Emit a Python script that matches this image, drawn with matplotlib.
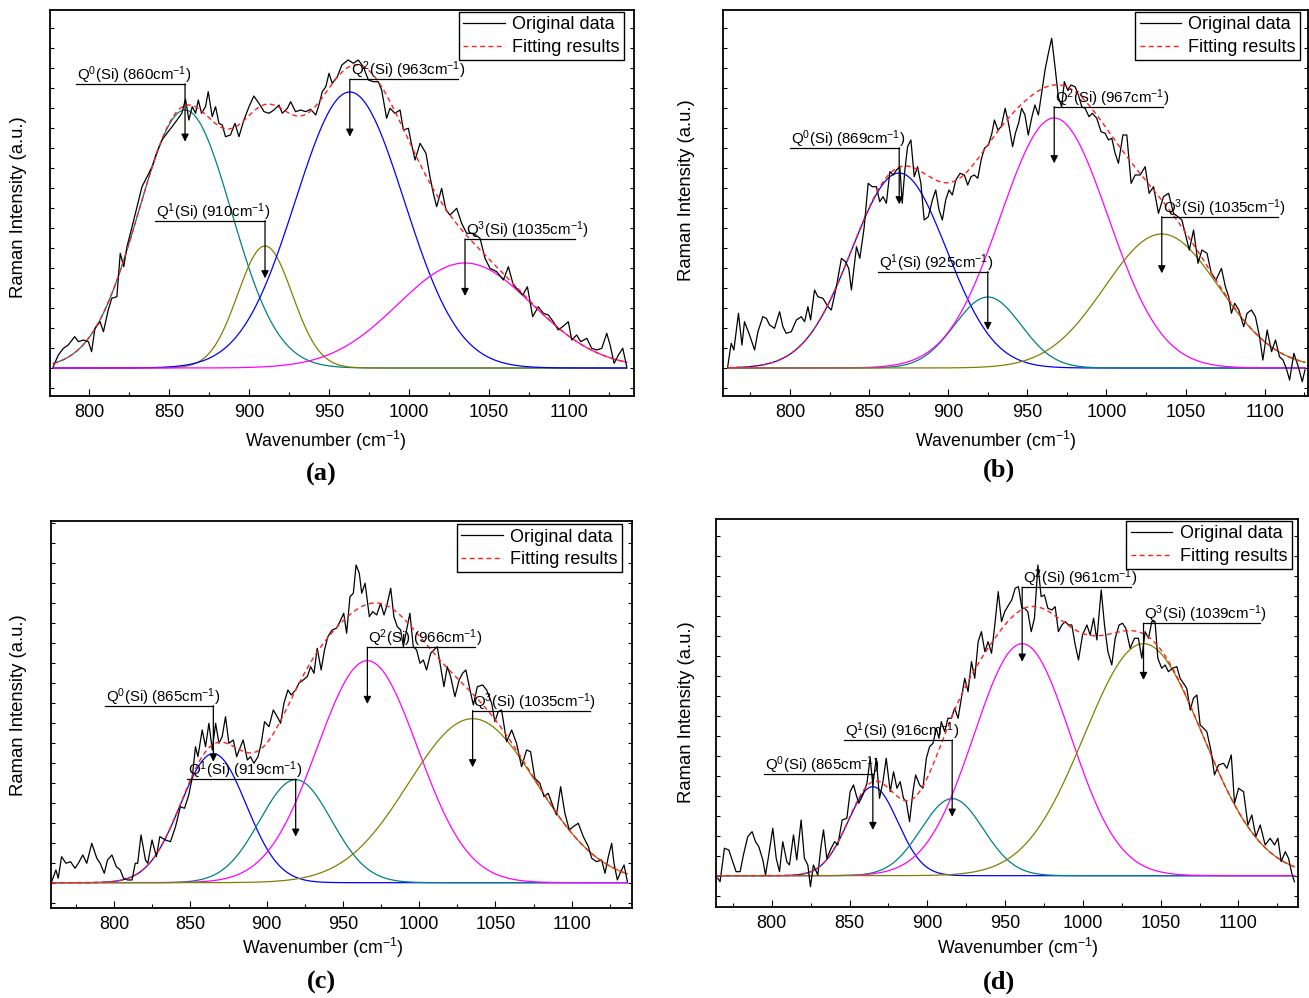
import numpy as np
import matplotlib
matplotlib.use("Agg")
import matplotlib.pyplot as plt
from matplotlib.ticker import MultipleLocator, NullFormatter

plt.rcParams["font.family"] = ["Liberation Sans", "DejaVu Sans"]
plt.rcParams["mathtext.default"] = "regular"

TEAL, OLIVE, BLUE, MAGENTA = "#008080", "#808000", "#0000ff", "#ff00ff"

# ---------------- panel (a) ----------------
wn_a = [777.6, 780.8, 784, 787, 791, 793.4, 796.4, 799.6, 801.6, 803.7, 806.9, 809, 812, 814.2,
        817.4, 819.5, 821.7, 823.7, 826.9, 830, 833.1, 836.3, 839.4, 842.5, 845.6, 848.7, 851.9,
        855, 858, 860.3, 862.4, 864.5, 866.6, 868.3, 870.3, 872.8, 874.5, 877, 879.1, 881.2,
        883.3, 885.3, 888.4, 891.2, 893.7, 896.8, 900, 903, 906.2, 909.4, 912.5, 915.6, 918.7,
        920.8, 924, 926, 929.1, 932.3, 935.4, 938.5, 941.7, 943.7, 945.8, 948, 950, 952, 955.2,
        958, 962, 965.2, 968.3, 971.4, 974.6, 977.7, 980.8, 982.9, 986, 988.1, 991.2, 994.4,
        996.5, 999.6, 1001.7, 1003.8, 1006.9, 1010.6, 1013.1, 1015.2, 1017.3, 1020.4, 1023.1,
        1025.6, 1029.8, 1032.9, 1036, 1040.2, 1044.4, 1047.5, 1050.6, 1054.8, 1059, 1062.1,
        1065.2, 1068.3, 1071.1, 1074, 1077.3, 1080.8, 1084, 1087.1, 1090.2, 1093.3, 1096,
        1099.6, 1101.7, 1104.8, 1107.3, 1111.1, 1114.2, 1117.3, 1120.5, 1123.6, 1125.7, 1128.2,
        1130.9, 1133.6, 1136.1]
raw_a = [1.3, 13, 19.7, 23, 31.3, 26.3, 28, 26.3, 16.3, 39.7, 46.3, 36.3, 58, 69.7,
         71.3, 114.7, 101.3, 121.3, 141.3, 161.3, 181.3, 191.3, 201.3, 216.3, 228, 234.7, 241.3,
         248, 254.7, 269, 248, 261.3, 254.7, 268, 254.7, 261.3, 276.3, 251.3, 261.3, 244.7,
         243, 231.3, 233, 244.7, 231.3, 248, 261.3, 272, 264.7, 256.3, 254.7, 258, 263,
         254.7, 259.7, 266.3, 256.3, 258, 256.3, 258.7, 253, 263, 276.3, 281.3, 294.7, 284.7, 291.3,
         303, 308, 304.7, 308, 301.3, 288, 286.3, 286.3, 278, 249.7, 259.7, 254.7, 258,
         238, 239.7, 223, 208, 224.7, 214.7, 191.3, 174.7, 161.3, 179.7, 158,
         153, 159.7, 144.7, 134.7, 134.7, 129.7, 109.7, 99.7, 96.3, 88, 101.3,
         83, 78, 73, 81.3, 51.3, 61.3, 54.7, 53, 46.3, 38, 41.3,
         46.3, 28, 33, 26.3, 29.7, 19.7, 18, 19.7, 34.7, 23, 4.7,
         13, 19.7, 1.3]
centers_a = [860, 910, 963, 1035]
heights_a = [258, 122, 276, 105]
sigmas_a = [29, 17, 34, 42]
colors_a = [TEAL, OLIVE, BLUE, MAGENTA]

# ---------------- panel (b) ----------------
wn_b = [760.6, 762.8, 764.5, 767.4, 769.6, 771.2, 774.4, 777.6, 779.7, 782.8, 785, 787.1, 790.2,
        793.4, 795.5, 797.6, 800.8, 804, 807.1, 809.2, 811.3, 813, 815.5, 817.6, 820.8, 824,
        826.1, 829.3, 832.5, 835, 837.1, 838.8, 842, 844.1, 846.8, 849.4, 851.9, 854.6, 856.7,
        858.8, 860.9, 863.1, 865.2, 867.3, 869.4, 870.9, 872.6, 874.3, 876.4, 878.5, 880.6,
        882.7, 884.8, 887.4, 890, 892.1, 894.2, 896.3, 898.4, 900.5, 902.6, 904.8, 907.5, 910.2,
        912.3, 914.4, 916.5, 918.7, 920.8, 922.9, 925.4, 927.6, 929.2, 931.4, 933.5, 936, 938.1,
        940.7, 942.5, 944.5, 946.4, 948.5, 950.6, 952.7, 954.8, 957, 959.5, 961.2, 963.3, 965.4,
        967.5, 969.6, 971.7, 973.4, 975.5, 977.6, 980.2, 982.3, 984.4, 986.5, 989, 991.1, 993.9,
        996.6, 999.2, 1001.3, 1003.4, 1005.5, 1007.6, 1010.4, 1012.9, 1015.6, 1018.2, 1021.3,
        1024.5, 1027, 1029.8, 1032.9, 1036.1, 1039.3, 1042.4, 1045.2, 1047.7, 1049.8, 1052.4,
        1055.1, 1057.9, 1060.4, 1063.6, 1066.3, 1069.3, 1072.7, 1075.2, 1077.3, 1079, 1081.1,
        1083.7, 1086.8, 1088.9, 1091.7, 1094.2, 1096.8, 1098.9, 1101.6, 1104.4, 1106.9, 1109.4,
        1111.6, 1113.7, 1115.8, 1118.5, 1121.3, 1123.8, 1125.5]
raw_b = [1.3, 24.7, 18, 54.7, 23, 46.3, 33, 18, 36.3, 51.3, 49.7, 43, 39.7,
         56.3, 41.3, 34.7, 36.3, 48, 51.3, 46.3, 61.3, 48, 78, 71.3, 69.7, 61.3,
         58, 81.3, 109.7, 106.3, 99.7, 78, 121.3, 109.7, 139.7, 184.7, 181.3, 181.3, 166.3,
         171.3, 164.7, 196.3, 193, 198, 201.3, 164.7, 198, 221.3, 228, 191.3, 201.3,
         184.7, 148, 151.3, 168, 178, 158, 148, 168, 178, 173, 188, 194.7, 193,
         183, 191.3, 193, 189.7, 208, 219.7, 223, 234.7, 248, 238, 241.3, 259.7, 244.7,
         221.3, 235, 245, 259.7, 253, 233, 249.7, 263, 253, 279.7, 298, 314.7, 329.7,
         301.3, 271.3, 261.3, 286.3, 278, 283, 281.3, 273, 261.3, 259.7, 251.3, 254.7, 249.7,
         236.3, 234.7, 228, 229.7, 214.7, 204.7, 233, 233, 184.7, 193, 193,
         201.3, 174.7, 181.3, 154.7, 171.3, 174.7, 154.7, 151.3, 148, 134.7, 118,
         138, 104.7, 118, 114.7, 94.7, 88, 99.7, 81.3, 71.3, 54.7, 64.7,
         58, 41.3, 54.7, 58, 51.3, 31.3, 8, 38, 16.3, 28, 11.3,
         8, -0.3, -12, 14.7, 1.3, -13.7, -2]
centers_b = [869, 925, 967, 1035]
heights_b = [195, 71, 250, 134]
sigmas_b = [30, 21, 34, 36]
colors_b = [BLUE, TEAL, MAGENTA, OLIVE]

# ---------------- panel (c) ----------------
wn_c = [759, 761.8, 763.3, 765.5, 768.4, 771.4, 774.3, 776.5, 779.4, 782, 785.3, 788.6, 790.8,
        793.5, 795.6, 798.5, 801.4, 804, 806.1, 808.8, 811.7, 813.8, 815.4, 817.6, 820.5, 822,
        824.8, 827.7, 829.9, 833.6, 836.9, 840.2, 843.4, 846.1, 848.9, 851.1, 853.3, 854.9,
        857.7, 859.9, 862.1, 864.3, 866.5, 868.7, 870.8, 873, 875.2, 878.1, 880.3, 882.4, 884.6,
        887.3, 889.4, 891.6, 894.3, 896.4, 898.6, 901.5, 904.3, 906.9, 909.1, 911.3, 913.9,
        916.1, 919, 921.1, 924, 926.6, 928.8, 931, 933.1, 935.7, 937.9, 940.1, 942.9, 945.8,
        948, 950.5, 952.4, 954.6, 956.8, 958.6, 960.7, 962.3, 964.5, 967.3, 969.5, 972.1, 974.7,
        976.9, 978.6, 981.3, 983.4, 985.6, 987.8, 989.6, 991.7, 993.9, 996.1, 998.3, 1000.5,
        1002.7, 1004.8, 1007.5, 1009.6, 1011.8, 1013.6, 1016.2, 1018.4, 1020.6, 1023.4, 1026.2,
        1028.4, 1030.6, 1033.3, 1035.5, 1038.1, 1041.6, 1044.2, 1047.5, 1049.6, 1051.8, 1054,
        1057.3, 1060.6, 1063.8, 1067.1, 1070.4, 1073, 1075.8, 1079.1, 1081.8, 1084.6, 1087.8,
        1090, 1092.7, 1095.5, 1098.4, 1101, 1104.3, 1107.6, 1110.9, 1113.1, 1116.3, 1119.6,
        1121.8, 1124, 1126.2, 1127.7, 1129.9, 1132.1, 1134.3, 1136.5]
raw_c = [1, 12.7, 4.4, 26, 19.4, 21, 14.4, 19.4, 27.7, 19.4, 39.4, 24.4, 19.4,
         9.4, 22.7, 27.7, 16, 12.7, 4.4, 2.7, 2.7, 19.4, 19.4, 47.7, 22.7, 19.4,
         42.7, 26, 46, 42.7, 41, 56, 76, 74.4, 87.7, 104.4, 136, 126,
         152.7, 136, 159.4, 132.7, 159.4, 139.4, 146, 166, 139.4, 142.7, 126, 134.4, 142.7,
         122.7, 126, 119.4, 126, 139.4, 161, 156, 172.7, 166, 159.4, 179.4, 192.7,
         187.7, 192.7, 199.4, 202.7, 206, 216, 209.4, 234.4, 212.7, 232.7, 246, 252.7, 254.4,
         261, 269.4, 249.4, 286, 289.4, 317.7, 309.4, 289.4, 299.4, 266, 271, 267.7, 279.4,
         267.7, 276, 294.4, 266, 256, 252.7, 236, 252.7, 269.4, 236, 232.7, 219.4,
         222.7, 212.7, 229.4, 232.7, 236, 219.4, 196, 216, 206, 186, 202.7,
         209.4, 212.7, 192.7, 177.7, 196, 197.7, 192.7, 179.4, 161, 171, 172.7,
         141, 152.7, 139.4, 116, 132.7, 131, 104.4, 99.4, 86, 89.4, 76,
         67.7, 96, 69.4, 52.7, 56, 59.4, 46, 36, 24.4, 21, 22.7,
         9.4, 26, 39.4, 19.4, 2.7, 11, 17.7, 1]
centers_c = [865, 919, 966, 1035]
heights_c = [129, 103, 222, 164]
sigmas_c = [21.5, 23.5, 33, 42]
colors_c = [BLUE, TEAL, MAGENTA, OLIVE]

# ---------------- panel (d) ----------------
wn_d = [765.3, 766.8, 769.6, 772.4, 774.9, 777.1, 779.7, 781.8, 784.6, 787.4, 789.6, 791.7, 794.3,
        796, 798.1, 800.7, 802.9, 805, 807.1, 809.7, 811.4, 814, 816.1, 818.9, 821, 823.2, 824.9,
        826.8, 829.6, 831.8, 833.3, 835.4, 838.2, 840.4, 842.5, 845.3, 848.3, 850.4, 852.6,
        854.3, 856, 858.6, 861.2, 863.3, 865, 867.2, 869.3, 871.5, 873.6, 876.2, 878.3, 880.5,
        882.6, 884.7, 886.5, 888.6, 890.8, 892.5, 895.1, 897.2, 899.4, 901.5, 903.7, 905.8,
        907.5, 909, 911.2, 913.3, 915.5, 917.6, 919.8, 921.9, 924.1, 926.2, 928.4, 930.5, 932.7,
        934.8, 937, 939.1, 941.3, 943.4, 945.6, 947.7, 949.8, 952.4, 954.3, 956.5, 958.6, 960.8,
        962.5, 964.6, 966.8, 968.9, 971.1, 973.2, 975.3, 977.5, 980.1, 982.2, 984.3, 986.5,
        988.6, 990.8, 992.9, 995.1, 997.2, 999.8, 1002.6, 1004.7, 1006.9, 1009, 1011.8, 1013.9,
        1016.1, 1018.6, 1020.8, 1023.3, 1025.5, 1027.6, 1030.4, 1033.2, 1035.7, 1037.9, 1040,
        1042.2, 1044.3, 1046.4, 1048.2, 1050.7, 1052.9, 1055, 1057.6, 1060.4, 1062.5, 1064.7,
        1066.8, 1069, 1071.1, 1073.3, 1075.4, 1077.6, 1079.7, 1082.5, 1084.6, 1087.2, 1090.4,
        1092.6, 1095.4, 1097.5, 1100.1, 1103.3, 1106.1, 1108.6, 1111.2, 1114, 1117.2, 1120.4,
        1123.2, 1125.4, 1127.5, 1130.1, 1132.2, 1134.3, 1136]
raw_d = [-2.6, -6, 27.4, 25.7, 14, 4, 4, 20.7, 39, 44, 34, 29, 15.7,
         0.7, 20.7, 47.4, 17.4, 4, 34, 14, 10.7, 40.7, 15.7, 55.7, 17.4, 10.7, -11,
         10.7, 0.7, 30.7, 45.7, 17.4, 27.4, 34, 30.7, 55.7, 57.4, 84, 90.7,
         80.7, 72.4, 80.7, 92.4, 117.4, 90.7, 117.4, 77.4, 94, 117.4, 84, 104, 87.4,
         94, 77.4, 74, 54, 84, 100.7, 90.7, 87.4, 117.4, 129, 132.4, 147.4,
         137.4, 154, 144, 157.4, 157.4, 167.4, 157.4, 177.4, 197.4, 184, 214, 197.4, 234,
         244, 224, 234, 222.4, 250.7, 284, 254, 264, 271, 275.7, 287.4, 289, 267.4,
         267.4, 264, 244, 257.4, 310.7, 279, 280.7, 267.4, 265.7, 269, 244, 250.7,
         254, 250.7, 250.7, 230.7, 215.7, 240.7, 250.7, 240.7, 257.4, 235.7, 285.7, 250.7,
         224, 210.7, 237.4, 250.7, 252.4, 247.4, 227.4, 237.4, 237.4, 217.4, 244,
         237.4, 254, 254, 217.4, 207.4, 210.7, 204, 207.4, 209, 197.4, 192.4,
         187.4, 165.7, 177.4, 180.7, 150.7, 147.4, 144, 124, 100.7, 110.7, 112.4,
         107.4, 120.7, 72.4, 87.4, 84, 50.7, 60.7, 39, 50.7, 30.7, 37.4,
         30.7, 37.4, 14, 24, 17.4, 2.4, -6]
centers_d = [865, 916, 961, 1039]
heights_d = [89, 77, 232, 232]
sigmas_d = [16, 20, 31, 38]
colors_d = [BLUE, TEAL, MAGENTA, OLIVE]

# layout: axes rect, limits, legend anchor, label coords, letter position
panels = [
    dict(wn=wn_a, raw=raw_a, c=centers_a, h=heights_a, s=sigmas_a, col=colors_a, letter="(a)",
         rect=[0.0382, 0.6032, 0.4461, 0.3868], xlim=(775.6, 1140.6), ylim=(-28, 358),
         leg=(0.983, 0.995), xl=(0.4726, -0.1166), yl=(-0.0548, 0.49), lpos=(0.2452, 0.525),
         # (line start, line end, arrow x, line height, arrow tip)
         marks=[(791.9, 860, 860, 284, 226.3), (841.3, 910, 910, 147.3, 89.7),
                (963, 1030.8, 963, 288.7, 231.3), (1035, 1103.8, 1035, 129, 72)]),
    dict(wn=wn_b, raw=raw_b, c=centers_b, h=heights_b, s=sigmas_b, col=colors_b, letter="(b)",
         rect=[0.5523, 0.6032, 0.4469, 0.3868], xlim=(757.6, 1127.4), ylim=(-28, 358),
         leg=(0.987, 0.995), xl=(0.467, -0.1166), yl=(-0.063, 0.534), lpos=(0.7632, 0.529),
         marks=[(800.2, 869, 869, 220.3, 163.7), (855.7, 925, 925, 96.3, 38),
                (967, 1035.6, 967, 261.3, 204.7), (1035, 1108.2, 1035, 151.3, 94.7)]),
    dict(wn=wn_c, raw=raw_c, c=centers_c, h=heights_c, s=sigmas_c, col=colors_c, letter="(c)",
         rect=[0.039, 0.0902, 0.4438, 0.3878], xlim=(758.6, 1139.5), ylim=(-25.3, 361.7),
         leg=(0.983, 0.992), xl=(0.468, -0.103), yl=(-0.0568, 0.525), lpos=(0.2452, 0.016),
         marks=[(794, 865, 865, 177, 121), (847.9, 919, 919, 103.4, 46),
                (966, 1036.6, 966, 235.4, 178.7), (1035, 1112, 1035, 172, 115.4)]),
    dict(wn=wn_d, raw=raw_d, c=centers_d, h=heights_d, s=sigmas_d, col=colors_d, letter="(d)",
         rect=[0.547, 0.0912, 0.4446, 0.3888], xlim=(764.2, 1138.3), ylim=(-31.3, 356.7),
         leg=(0.989, 0.995), xl=(0.519, -0.1057), yl=(-0.0515, 0.503), lpos=(0.7632, 0.016),
         marks=[(795.3, 865, 865, 101.4, 45.7), (846.3, 916, 916, 135.7, 59),
                (961, 1031.1, 961, 288.4, 214), (1039, 1113.6, 1039, 252.4, 195.7)]),
]


def gauss(x, c, h, s):
    return h * np.exp(-(x - c) ** 2 / (2.0 * s ** 2))


fig = plt.figure(figsize=(13.09, 9.98), dpi=100)

for p in panels:
    ax = fig.add_axes(p["rect"])
    wn = np.array(p["wn"])
    x = np.linspace(wn[0], wn[-1], 800)

    total = np.zeros_like(x)
    for c, h, s, col in zip(p["c"], p["h"], p["s"], p["col"]):
        comp = gauss(x, c, h, s)
        total += comp
        ax.plot(x, comp, color=col, lw=0.9, zorder=2)

    ax.plot(wn, p["raw"], color="black", lw=0.9, label="Original data", zorder=3)
    ax.plot(x, total, color="#ff2020", lw=1.0, ls=(0, (3.5, 2.5)), label="Fitting results", zorder=4)

    # peak annotations: text over a horizontal rule, arrow down to the band
    for i, (c, m) in enumerate(zip(p["c"], p["marks"])):
        x0, x1, xa, ly, tip = m
        ax.plot([x0, x1], [ly, ly], color="black", lw=0.9, zorder=5)
        ax.annotate("", xy=(xa, tip), xytext=(xa, ly),
                    arrowprops=dict(arrowstyle="-|>", color="black", lw=0.9,
                                    mutation_scale=11, shrinkA=0, shrinkB=0), zorder=5)
        ax.text(x0 + 0.5, ly + 4, "Q$^{%d}$(Si) (%dcm$^{-1}$)" % (i, c),
                fontsize=10.8, ha="left", va="baseline", zorder=6)

    ax.set_xlim(p["xlim"])
    ax.set_ylim(p["ylim"])
    ax.xaxis.set_major_locator(MultipleLocator(50))
    ax.xaxis.set_minor_locator(MultipleLocator(25))
    ax.yaxis.set_major_locator(MultipleLocator(20))
    ax.yaxis.set_major_formatter(NullFormatter())
    ax.tick_params(axis="both", which="both", direction="in", top=False)
    ax.tick_params(axis="y", which="both", left=True, right=True, length=3, width=0.8)
    ax.tick_params(axis="x", which="major", length=5, width=0.8, labelsize=13, pad=6)
    ax.tick_params(axis="x", which="minor", length=3, width=0.8)
    for sp in ax.spines.values():
        sp.set_linewidth(1.3)

    ax.set_xlabel("Wavenumber (cm$^{-1}$)", fontsize=12.8, va="center")
    ax.xaxis.set_label_coords(*p["xl"])
    ax.set_ylabel("Raman Intensity (a.u.)", fontsize=13.3, va="center")
    ax.yaxis.set_label_coords(*p["yl"])

    leg = ax.legend(loc="upper right", bbox_to_anchor=p["leg"], fontsize=13,
                    frameon=True, fancybox=False, edgecolor="black", framealpha=1,
                    borderpad=0.25, labelspacing=0.3, handlelength=2.3,
                    handletextpad=0.4, borderaxespad=0)
    leg.get_frame().set_linewidth(1.0)

    fig.text(p["lpos"][0], p["lpos"][1], p["letter"], fontsize=19, fontweight="bold",
             family="Liberation Serif", ha="center", va="center")

fig.savefig("out.png", dpi=100)
